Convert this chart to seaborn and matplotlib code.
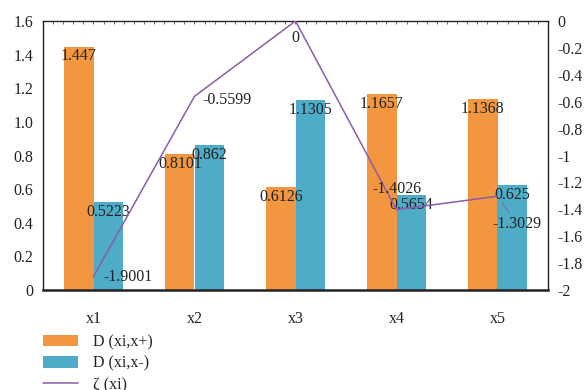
import numpy as np
import pandas as pd
import matplotlib
matplotlib.use("Agg")
import matplotlib.pyplot as plt
from matplotlib.ticker import FixedLocator, FuncFormatter
from matplotlib.patches import Patch
from matplotlib.lines import Line2D
import seaborn as sns

# Data
categories = ["x1", "x2", "x3", "x4", "x5"]
d_plus = [1.447, 0.8101, 0.6126, 1.1657, 1.1368]
d_minus = [0.5223, 0.862, 1.1305, 0.5654, 0.625]
zeta = [-1.9001, -0.5599, 0.0, -1.4026, -1.3029]
series_names = ["D (xi,x+)", "D (xi,x-)", "ζ (xi)"]

ORANGE = "#F2973F"
BLUE = "#4FACC8"
PURPLE = "#8B5DAA"
TXT = "#222222"
FS = 11.5

sns.set_theme(style="white")
plt.rcParams["font.family"] = ["Liberation Serif", "DejaVu Serif"]
plt.rcParams["font.size"] = FS
plt.rcParams["text.color"] = TXT
plt.rcParams["axes.labelcolor"] = TXT
plt.rcParams["xtick.color"] = TXT
plt.rcParams["ytick.color"] = TXT

fig = plt.figure(figsize=(5.84, 3.90), dpi=100)
ax = fig.add_axes([43 / 584, 1 - 290 / 390, (548 - 43) / 584, (290 - 21) / 390])

df = pd.DataFrame({
    "cat": categories * 2,
    "val": d_plus + d_minus,
    "series": [series_names[0]] * 5 + [series_names[1]] * 5,
})
sns.barplot(data=df, x="cat", y="val", hue="series", order=categories,
            hue_order=series_names[:2], palette=[ORANGE, BLUE],
            width=0.58, saturation=1, ax=ax, legend=False, linewidth=0)

ax.set_xlim(-0.5, 4.5)
ax.set_ylim(0, 1.6)
ax.set_xlabel("")
ax.set_ylabel("")
ax.set_yticks(np.arange(0, 1.61, 0.2))
ax.yaxis.set_major_formatter(FuncFormatter(lambda v, p: "0" if abs(v) < 1e-9 else f"{v:.1f}"))
ax.tick_params(axis="y", length=0, pad=7, labelsize=FS)
ax.tick_params(axis="x", which="major", length=0, pad=15, labelsize=FS)
ax.xaxis.set_minor_locator(FixedLocator(np.arange(-0.5, 4.6, 1.0)))
ax.tick_params(axis="x", which="minor", length=5, width=1.2, direction="out", color=TXT)

for side in ["left", "right", "top"]:
    ax.spines[side].set_color(TXT)
    ax.spines[side].set_linewidth(1.0)
ax.spines["bottom"].set_color(TXT)
ax.spines["bottom"].set_linewidth(1.8)

# small inward ticks along the top edge
top = ax.secondary_xaxis("top")
top.set_xticks(np.arange(-0.5, 4.51, 0.1))
top.set_xticklabels([])
top.tick_params(length=2.5, width=0.6, direction="in", color="#555555")
top.spines["top"].set_visible(False)

# value labels just inside the top of each bar
for bars in ax.containers:
    for p in bars:
        h = p.get_height()
        ax.annotate(f"{h:g}", (p.get_x() + p.get_width() / 2, h),
                    xytext=(0, -7), textcoords="offset points",
                    ha="center", va="center", fontsize=FS, color=TXT)

# secondary axis with the ζ line
ax2 = ax.twinx()
ax2.plot(range(len(categories)), zeta, color=PURPLE, lw=1.1)
ax2.set_ylim(-2, 0)
ax2.set_yticks(np.arange(-2, 0.01, 0.2))


def right_fmt(v, p):
    v = round(v, 1)
    return "0" if abs(v) < 1e-9 else f"{v:g}"


ax2.yaxis.set_major_formatter(FuncFormatter(right_fmt))
ax2.tick_params(axis="y", length=0, pad=7, labelsize=FS)
for s in ax2.spines.values():
    s.set_visible(False)
ax2.grid(False)
ax.grid(False)

offsets = [(7, 0, "left"), (6, -2.5, "left"), (0, -12, "center"),
           (0, 15, "center"), (14, -20, "center")]
for i, (z, (dx, dy, ha)) in enumerate(zip(zeta, offsets)):
    label = f"{z:g}"
    if i == 4:
        ax2.annotate(label, (i, z), xytext=(dx, dy), textcoords="offset points",
                     ha=ha, va="center", fontsize=FS, color=TXT,
                     arrowprops=dict(arrowstyle="-", color="#777777", lw=0.8,
                                     shrinkA=0, shrinkB=6))
    else:
        ax2.annotate(label, (i, z), xytext=(dx, dy), textcoords="offset points",
                     ha=ha, va="center", fontsize=FS, color=TXT)

handles = [Patch(facecolor=ORANGE, edgecolor="none"),
           Patch(facecolor=BLUE, edgecolor="none"),
           Line2D([0], [0], color=PURPLE, lw=1.1)]
fig.legend(handles, series_names, loc="upper left",
           bbox_to_anchor=(43 / 584, 1 - 334 / 390), frameon=False,
           borderpad=0, borderaxespad=0, handlelength=2.2, handleheight=0.75,
           handletextpad=0.9, labelspacing=0.35, fontsize=FS)

fig.savefig("out.png", dpi=100)
